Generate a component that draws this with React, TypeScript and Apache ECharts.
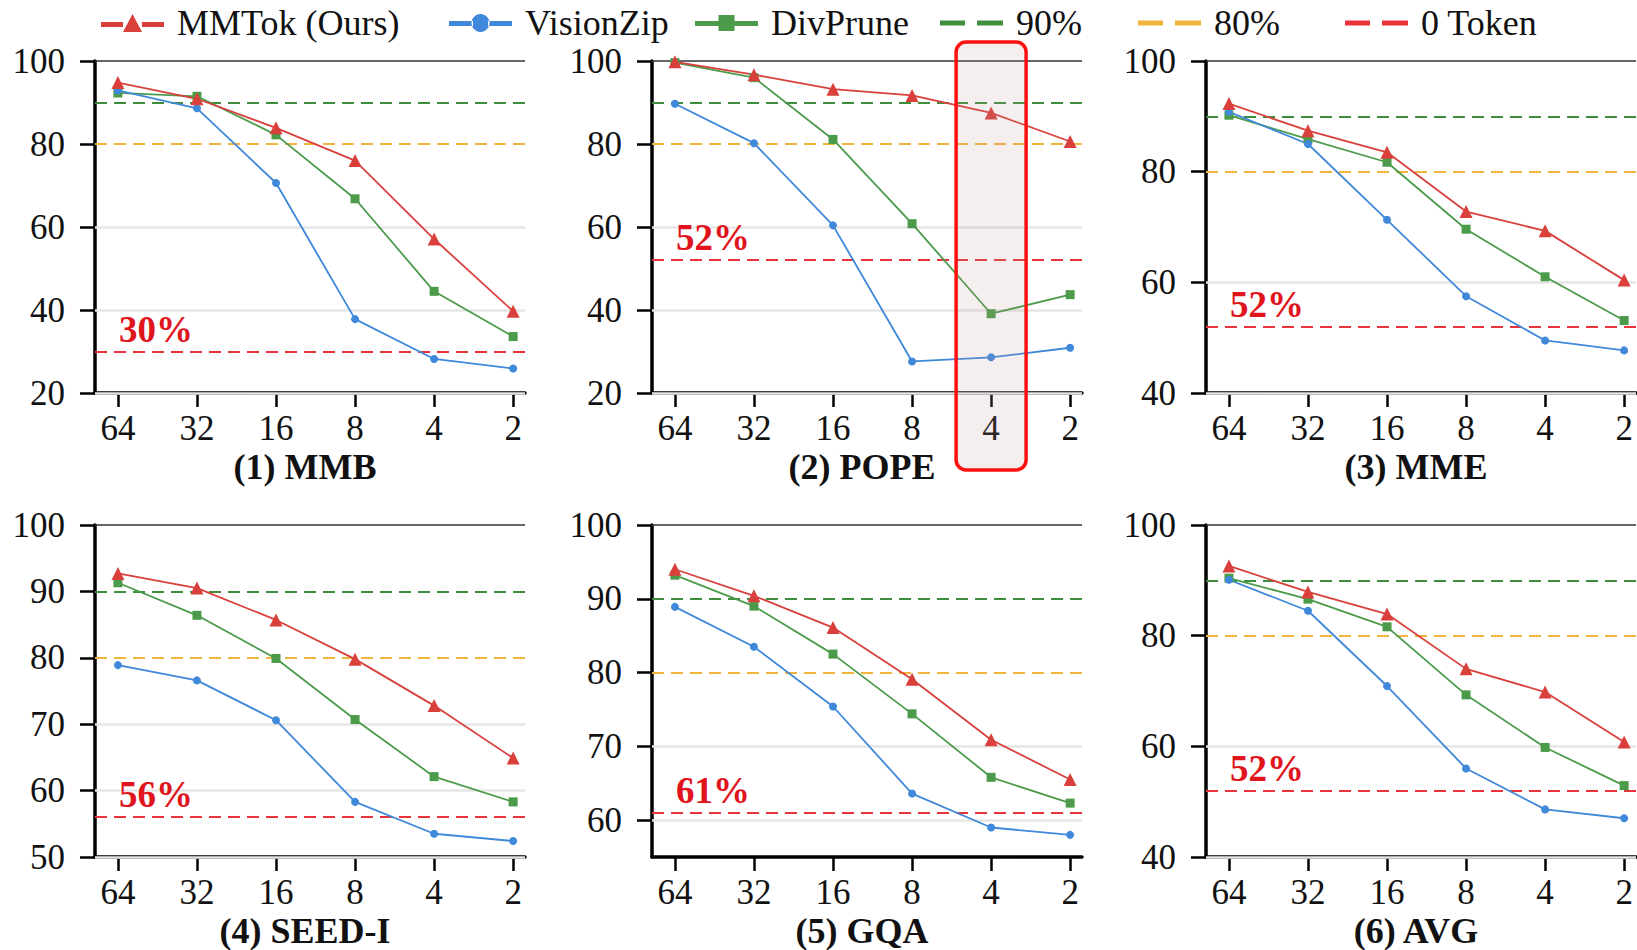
import React, { useEffect, useRef } from "react";
import * as echarts from "echarts";

// ---- data ----
const tokens = ["64", "32", "16", "8", "4", "2"];
const panelTitles = ["(1) MMB", "(2) POPE", "(3) MME", "(4) SEED-I", "(5) GQA", "(6) AVG"];
const legendNames = ["MMTok (Ours)", "VisionZip", "DivPrune", "90%", "80%", "0 Token"];

const mmbMMTok = [94.8, 90.9, 83.9, 76.0, 57.1, 39.7];
const mmbVisionZip = [92.9, 88.6, 70.6, 37.8, 28.2, 25.9];
const mmbDivPrune = [92.3, 91.5, 82.2, 66.8, 44.5, 33.6];

const popeMMTok = [99.8, 96.7, 93.2, 91.7, 87.5, 80.6];
const popeVisionZip = [89.7, 80.2, 60.4, 27.6, 28.6, 30.9];
const popeDivPrune = [99.6, 96.0, 81.1, 60.8, 39.1, 43.7];

const mmeMMTok = [92.3, 87.4, 83.5, 72.8, 69.3, 60.4];
const mmeVisionZip = [90.8, 85.0, 71.3, 57.5, 49.5, 47.7];
const mmeDivPrune = [90.2, 85.9, 81.7, 69.6, 61.0, 53.1];

const seedMMTok = [92.7, 90.5, 85.7, 79.8, 72.8, 64.9];
const seedVisionZip = [78.9, 76.6, 70.6, 58.3, 53.5, 52.4];
const seedDivPrune = [91.3, 86.4, 79.9, 70.7, 62.1, 58.3];

const gqaMMTok = [94.0, 90.4, 86.1, 79.1, 70.9, 65.5];
const gqaVisionZip = [88.9, 83.5, 75.4, 63.6, 59.0, 58.0];
const gqaDivPrune = [93.2, 89.0, 82.5, 74.4, 65.8, 62.3];

const avgMMTok = [92.6, 87.9, 83.9, 74.0, 69.8, 60.8];
const avgVisionZip = [90.1, 84.5, 70.9, 56.0, 48.6, 47.0];
const avgDivPrune = [90.4, 86.6, 81.6, 69.3, 59.8, 52.9];

const mmtokSeries = [mmbMMTok, popeMMTok, mmeMMTok, seedMMTok, gqaMMTok, avgMMTok];
const visionZipSeries = [mmbVisionZip, popeVisionZip, mmeVisionZip, seedVisionZip, gqaVisionZip, avgVisionZip];
const divPruneSeries = [mmbDivPrune, popeDivPrune, mmeDivPrune, seedDivPrune, gqaDivPrune, avgDivPrune];

const zeroToken = [30, 52, 52, 56, 61, 52];
const level90 = 90;
const level80 = 80;

const yMins = [20, 20, 40, 50, 55, 40];
const yTickValues = [
  [20, 40, 60, 80, 100],
  [20, 40, 60, 80, 100],
  [40, 60, 80, 100],
  [50, 60, 70, 80, 90, 100],
  [60, 70, 80, 90, 100],
  [40, 60, 80, 100],
];
const highlightPanel = 1;
const highlightIndex = 4;

// ---- style ----
const FONT = "'Liberation Serif', 'Times New Roman', serif";
const RED = "#d9403c";
const BLUE = "#3f88da";
const GREEN = "#4b9b4b";
const DASH_GREEN = "#3e8e3e";
const DASH_YELLOW = "#f1b43a";
const DASH_RED = "#e8343a";
const LABEL_RED = "#e0141c";

const colLefts = [95, 652, 1206];
const rowTops = [61, 525];
const gridW = 430;
const gridH = 332;
const xMin = -0.29;
const xMax = 5.15;

const legendLefts = [101, 449, 695, 940, 1138, 1345];
const ICON_TRI = "path://M0,8 h22 v5 h-22 z M41,8 h22 v5 h-22 z M31.5,0 L41,18 L22,18 z";
const ICON_CIR = "path://M0,8 h24 v5 h-24 z M39,8 h24 v5 h-24 z M31.5,1 A9,9 0 1,0 31.51,1 z";
const ICON_SQR = "path://M0,8 h24 v5 h-24 z M39,8 h24 v5 h-24 z M23.5,2 h16 v16 h-16 z";
const ICON_DASH = "path://M0,8 h25 v5 h-25 z M37,8 h26 v5 h-26 z";
const legendIcons = [ICON_TRI, ICON_CIR, ICON_SQR, ICON_DASH, ICON_DASH, ICON_DASH];

const tickText = { fontSize: 35, fontFamily: FONT, color: "#111" };

export default function App() {
  const ref = useRef<HTMLDivElement>(null);

  useEffect(() => {
    if (!ref.current) return;
    const chart = echarts.init(ref.current, undefined, { renderer: "svg" });

    const grids: any[] = [];
    const xAxes: any[] = [];
    const yAxes: any[] = [];
    const series: any[] = [];
    const titles: any[] = [];

    for (let i = 0; i < 6; i++) {
      const col = i % 3;
      const row = Math.floor(i / 3);
      const left = colLefts[col];
      const top = rowTops[row];
      grids.push({ left, top, width: gridW, height: gridH, outerBoundsMode: "none", containLabel: false });
      xAxes.push({
        gridIndex: i,
        type: "value",
        min: xMin,
        max: xMax,
        axisLine: { show: true, onZero: false, lineStyle: { color: "#000", width: 3.5 } },
        axisTick: { show: true, customValues: [0, 1, 2, 3, 4, 5], length: 14, lineStyle: { color: "#000", width: 2.5 } },
        axisLabel: {
          customValues: [0, 1, 2, 3, 4, 5],
          formatter: (v: number) => tokens[Math.round(v)] ?? "",
          ...tickText,
          margin: 18,
        },
        splitLine: { show: false },
      });
      yAxes.push({
        gridIndex: i,
        type: "value",
        min: yMins[i],
        max: 100,
        axisLine: { show: true, onZero: false, lineStyle: { color: "#000", width: 3.5 } },
        axisTick: { show: true, customValues: yTickValues[i], length: 15, lineStyle: { color: "#000", width: 2.5 } },
        axisLabel: {
          customValues: yTickValues[i],
          ...tickText,
          margin: 30,
        },
        splitLine: { show: false },
      });
      titles.push({
        text: panelTitles[i],
        left: left + gridW / 2 - 5,
        top: top + gridH + 56,
        padding: 0,
        textAlign: "center",
        textStyle: { fontSize: 36, fontWeight: "bold", fontFamily: FONT, color: "#111" },
      });

      // grid lines
      series.push({
        type: "line",
        name: "_grid" + i,
        xAxisIndex: i,
        yAxisIndex: i,
        data: [],
        z: 1,
        silent: true,
        markLine: {
          silent: true,
          symbol: "none",
          animation: false,
          label: { show: false },
          data: yTickValues[i]
            .filter((v) => v !== level90 && v !== level80)
            .map((v) => ({
              yAxis: v,
              lineStyle: v === 100 ? { color: "#333", width: 1.6, type: "solid" } : { color: "#e6e6e6", width: 2.5, type: "solid" },
            })),
        },
      });

      const refLine = (name: string, value: number, color: string, label?: string) => ({
        type: "line",
        name,
        xAxisIndex: i,
        yAxisIndex: i,
        data: [],
        symbol: "none",
        z: 2,
        lineStyle: { color, width: 5 },
        itemStyle: { color },
        markLine: {
          silent: true,
          symbol: "none",
          animation: false,
          lineStyle: { color, width: 2, type: [12, 7] },
          label: label
            ? {
                show: true,
                position: "insideStartTop",
                distance: [24, 4],
                formatter: label,
                fontSize: 37,
                fontWeight: "bold",
                fontFamily: FONT,
                color: LABEL_RED,
              }
            : { show: false },
          data: [{ yAxis: value }],
        },
      });
      series.push(refLine(legendNames[3], level90, DASH_GREEN));
      series.push(refLine(legendNames[4], level80, DASH_YELLOW));
      series.push(refLine(legendNames[5], zeroToken[i], DASH_RED, zeroToken[i] + "%"));

      const dataLine = (name: string, vals: number[], color: string, symbol: string, size: number) => ({
        type: "line",
        name,
        xAxisIndex: i,
        yAxisIndex: i,
        data: vals.map((v, j) => [j, v]),
        symbol,
        symbolSize: size,
        showSymbol: true,
        z: 5,
        lineStyle: { color, width: 1.8 },
        itemStyle: { color },
      });
      series.push(dataLine(legendNames[2], divPruneSeries[i], GREEN, "rect", 9));
      series.push(dataLine(legendNames[1], visionZipSeries[i], BLUE, "circle", 8));
      series.push(dataLine(legendNames[0], mmtokSeries[i], RED, "triangle", 13));
    }

    const legends = legendNames.map((name, k) => ({
      left: legendLefts[k],
      top: 5,
      itemWidth: 63,
      itemHeight: 20,
      selectedMode: false,
      padding: 0,
      itemStyle: { borderWidth: 0 },
      textStyle: { fontSize: 36, fontFamily: FONT, color: "#111", padding: [0, 0, 0, 8] },
      data: [{ name, icon: legendIcons[k] }],
    }));

    chart.setOption({
      animation: false,
      backgroundColor: "#fff",
      textStyle: { fontFamily: FONT },
      title: titles,
      legend: legends,
      grid: grids,
      xAxis: xAxes,
      yAxis: yAxes,
      series,
    });

    const cx = chart.convertToPixel({ xAxisIndex: highlightPanel }, highlightIndex) as number;
    chart.setOption({
      graphic: [
        {
          type: "rect",
          z: 100,
          silent: true,
          shape: { x: cx - 35, y: 42, width: 70, height: 428, r: 10 },
          style: { fill: "rgba(185,150,150,0.16)", stroke: "#ff1010", lineWidth: 3.5 },
        },
      ],
    });

    return () => chart.dispose();
  }, []);

  return <div ref={ref} style={{ position: "absolute", left: 0, top: 0, width: 1637, height: 950 }} />;
}
